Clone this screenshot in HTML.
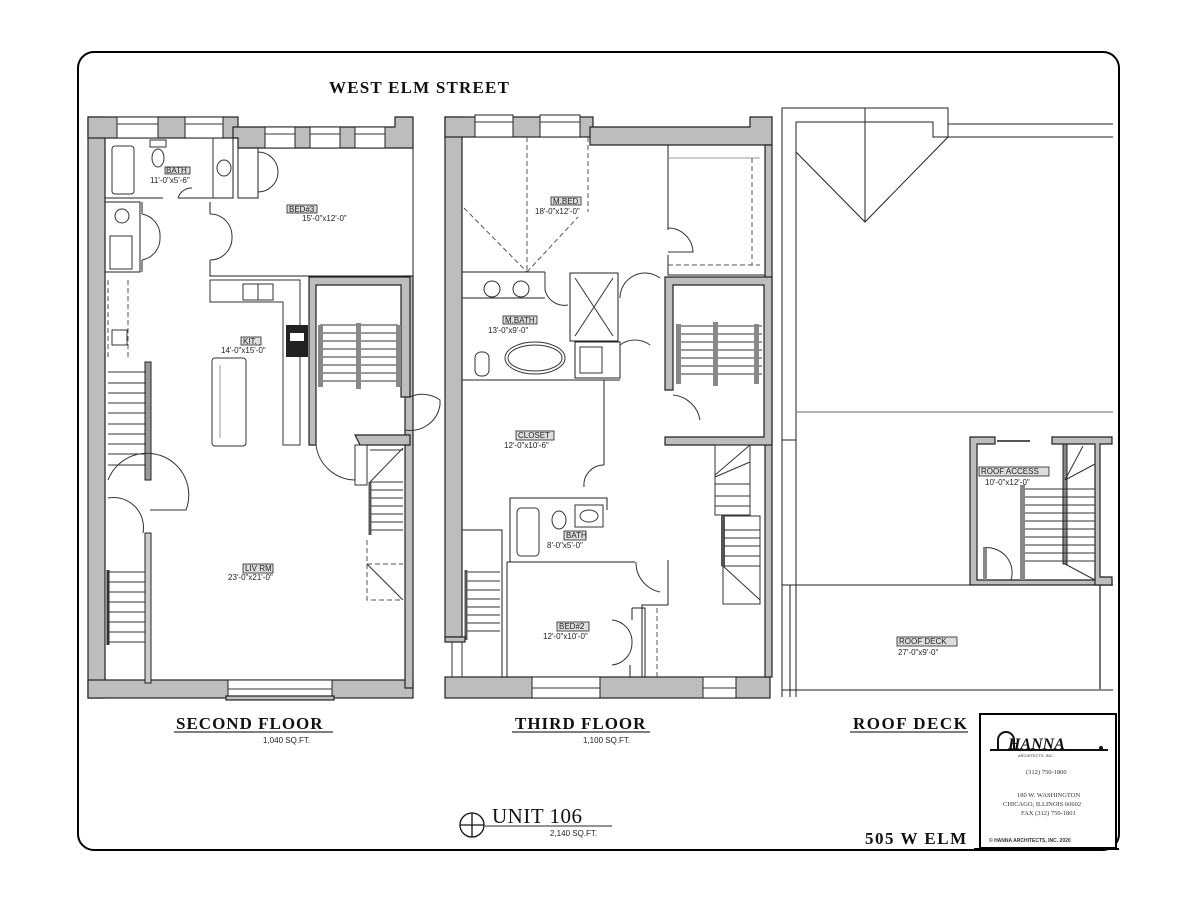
<!DOCTYPE html>
<html><head><meta charset="utf-8"><style>
html,body{margin:0;padding:0;background:#fff;}
svg{display:block}
.w{fill:#bdbdbd;stroke:#222;stroke-width:1.2}
.l{fill:none;stroke:#222;stroke-width:1}
.t{fill:none;stroke:#333;stroke-width:1}
.g{fill:none;stroke:#999;stroke-width:1}
.d{fill:none;stroke:#555;stroke-width:1;stroke-dasharray:5 3}
.lab{font-family:"Liberation Sans",sans-serif;font-size:8px;fill:#222}
.lb{fill:#ddd;stroke:#222;stroke-width:.8}
.ttl{font-family:"Liberation Serif",serif;font-weight:bold;fill:#111}
</style></head><body>
<svg width="1200" height="900" viewBox="0 0 1200 900" xmlns="http://www.w3.org/2000/svg">
<rect x="0" y="0" width="1200" height="900" fill="#fff"/>
<rect x="78" y="52" width="1041" height="798" rx="16" ry="16" fill="#fff" stroke="#000" stroke-width="2"/>

<text x="329" y="93" class="ttl" font-size="17" letter-spacing="1.2">WEST ELM STREET</text>

<!-- ============ SECOND FLOOR ============ -->
<rect x="88" y="117" width="17" height="581" class="w"/>
<rect x="88" y="680" width="325" height="18" class="w"/>
<rect x="228" y="680" width="104" height="18" fill="#fff" stroke="#222"/>
<line x1="228" y1="689" x2="332" y2="689" class="t"/>
<rect x="226" y="696" width="108" height="4" class="w"/>
<rect x="405" y="276" width="8" height="412" class="w"/>
<rect x="88" y="117" width="150" height="21" class="w"/>
<rect x="117" y="117" width="41" height="21" fill="#fff" stroke="#222"/>
<rect x="185" y="117" width="38" height="21" fill="#fff" stroke="#222"/>
<line x1="117" y1="124" x2="158" y2="124" class="t"/><line x1="185" y1="124" x2="223" y2="124" class="t"/>
<path d="M233 127 H395 V117 H413 V148 H238 V138 H233 Z" class="w"/>
<rect x="265" y="127" width="30" height="21" fill="#fff" stroke="#222"/>
<rect x="310" y="127" width="30" height="21" fill="#fff" stroke="#222"/>
<rect x="355" y="127" width="30" height="21" fill="#fff" stroke="#222"/>
<line x1="265" y1="134" x2="295" y2="134" class="t"/><line x1="310" y1="134" x2="340" y2="134" class="t"/><line x1="355" y1="134" x2="385" y2="134" class="t"/>
<line x1="413" y1="148" x2="413" y2="278" class="l" stroke-width="2"/>
<path d="M105 198 H163 M178 198 H233 V138" class="l" stroke-width="1.5"/>
<rect x="112" y="146" width="22" height="48" rx="3" class="t"/>
<ellipse cx="158" cy="158" rx="6" ry="9" class="t"/><rect x="150" y="140" width="16" height="7" class="t"/>
<line x1="213" y1="138" x2="213" y2="198" class="t"/>
<ellipse cx="224" cy="168" rx="7" ry="8" class="t"/>
<path d="M178 198 A14 14 0 0 1 192 188" class="t"/>
<rect x="165" y="167" width="25" height="7" class="lb"/><text x="166" y="173" class="lab" font-size="7">BATH</text>
<text x="150" y="183" class="lab" font-size="7">11'-0"x5'-6"</text>
<path d="M238 148 V198 H258 V148" class="l"/>
<path d="M258 152 A20 20 0 0 1 278 172 M258 192 A20 20 0 0 0 278 172" class="t"/>
<path d="M105 202 H140 V272 H105" class="l"/>
<path d="M142 202 V214 M142 260 V272" class="l" stroke-width="2"/>
<circle cx="122" cy="216" r="7" class="t"/><rect x="110" y="236" width="22" height="33" class="t"/>
<path d="M142 214 A22 22 0 0 1 160 237 M142 260 A22 22 0 0 0 160 237" class="t"/>
<path d="M210 202 V214 M210 260 V276 H413" class="l" stroke-width="2"/>
<path d="M210 214 A22 22 0 0 1 232 237 M210 260 A22 22 0 0 0 232 237" class="t"/>
<rect x="287" y="205" width="30" height="8" class="lb"/><text x="289" y="212" class="lab" font-size="7.5">BED#3</text>
<text x="302" y="221" class="lab" font-size="7.5">15'-0"x12'-0"</text>
<path d="M210 280 H300 V445 H283 V302 H210 Z" class="t"/>
<rect x="243" y="284" width="30" height="16" class="t"/><line x1="258" y1="284" x2="258" y2="300" class="t"/>
<rect x="286" y="325" width="22" height="32" fill="#222"/><rect x="290" y="333" width="14" height="8" fill="#fff"/>
<line x1="108" y1="280" x2="108" y2="360" class="d"/><line x1="128" y1="280" x2="128" y2="360" class="d"/>
<rect x="112" y="330" width="15" height="15" class="t"/>
<rect x="212" y="358" width="34" height="88" rx="3" class="t"/><line x1="220" y1="365" x2="220" y2="438" class="g" stroke-width="3"/>
<rect x="241" y="337" width="20" height="8" class="lb"/><text x="243" y="344" class="lab" font-size="7">KIT.</text>
<text x="221" y="353" class="lab" font-size="7.5">14'-0"x15'-0"</text>
<path d="M309 277 H410 V397 H401 V285 H316 V445 H309 Z" class="w"/>
<g class="t">
<line x1="320" y1="325" x2="398" y2="325"/><line x1="320" y1="333" x2="398" y2="333"/><line x1="320" y1="341" x2="398" y2="341"/><line x1="320" y1="349" x2="398" y2="349"/><line x1="320" y1="357" x2="398" y2="357"/><line x1="320" y1="365" x2="398" y2="365"/><line x1="320" y1="373" x2="398" y2="373"/><line x1="320" y1="381" x2="398" y2="381"/>
</g>
<rect x="318" y="325" width="5" height="62" fill="#888"/><rect x="356" y="323" width="5" height="66" fill="#888"/><rect x="396" y="325" width="5" height="62" fill="#888"/>
<path d="M410 397 A30 30 0 0 1 440 400 L440 405 A30 30 0 0 1 405 430" class="t"/>
<path d="M355 435 H410 V445 H360 Z" class="w"/>
<path d="M316 445 A40 40 0 0 0 355 480" class="t"/>
<rect x="355" y="445" width="12" height="40" class="t"/>
<g class="t"><line x1="370" y1="482" x2="403" y2="482"/><line x1="370" y1="490" x2="403" y2="490"/><line x1="370" y1="498" x2="403" y2="498"/><line x1="370" y1="506" x2="403" y2="506"/><line x1="370" y1="514" x2="403" y2="514"/><line x1="370" y1="522" x2="403" y2="522"/><line x1="370" y1="530" x2="403" y2="530"/></g>
<line x1="370" y1="482" x2="370" y2="535" stroke="#555" stroke-width="3"/>
<line x1="370" y1="450" x2="403" y2="450" class="t"/><line x1="370" y1="482" x2="403" y2="448" class="t"/>
<path d="M367 540 V600 H403 M367 564 H403" class="d"/><line x1="367" y1="564" x2="403" y2="600" class="t"/>
<rect x="145" y="362" width="6" height="118" fill="#999" stroke="#222"/>
<g class="t">
<line x1="108" y1="372" x2="146" y2="372"/><line x1="108" y1="383" x2="146" y2="383"/><line x1="108" y1="393" x2="146" y2="393"/><line x1="108" y1="403" x2="146" y2="403"/><line x1="108" y1="413" x2="146" y2="413"/><line x1="108" y1="424" x2="146" y2="424"/><line x1="108" y1="434" x2="146" y2="434"/><line x1="108" y1="444" x2="146" y2="444"/><line x1="108" y1="454" x2="146" y2="454"/><line x1="108" y1="465" x2="146" y2="465"/>
</g>
<path d="M108 480 A36 36 0 0 1 186 510 H150" class="t"/>
<path d="M108 498 A30 30 0 0 1 143 533" class="t"/>
<rect x="145" y="533" width="6" height="150" fill="#ccc" stroke="#222"/>
<g class="t">
<line x1="108" y1="572" x2="145" y2="572"/><line x1="108" y1="582" x2="145" y2="582"/><line x1="108" y1="592" x2="145" y2="592"/><line x1="108" y1="602" x2="145" y2="602"/><line x1="108" y1="612" x2="145" y2="612"/><line x1="108" y1="622" x2="145" y2="622"/><line x1="108" y1="632" x2="145" y2="632"/><line x1="108" y1="642" x2="145" y2="642"/>
</g>
<line x1="108" y1="570" x2="108" y2="645" stroke="#333" stroke-width="3"/>
<rect x="243" y="564" width="30" height="9" class="lb"/><text x="245" y="571" class="lab" font-size="7.5">LIV RM</text>
<text x="228" y="580" class="lab" font-size="7.5">23'-0"x21'-0"</text>

<!-- ============ THIRD FLOOR ============ -->
<rect x="445" y="117" width="17" height="520" class="w"/>
<rect x="445" y="677" width="325" height="21" class="w"/>
<rect x="532" y="677" width="68" height="21" fill="#fff" stroke="#222"/><line x1="532" y1="688" x2="600" y2="688" class="t"/>
<rect x="703" y="677" width="33" height="21" fill="#fff" stroke="#222"/><line x1="703" y1="688" x2="736" y2="688" class="t"/>
<rect x="445" y="117" width="148" height="20" class="w"/>
<rect x="475" y="115" width="38" height="22" fill="#fff" stroke="#222"/><rect x="540" y="115" width="40" height="22" fill="#fff" stroke="#222"/>
<line x1="475" y1="122" x2="513" y2="122" class="t"/><line x1="540" y1="122" x2="580" y2="122" class="t"/>
<path d="M590 127 H750 V117 H772 V145 H590 Z" class="w"/>
<rect x="765" y="145" width="7" height="532" class="w"/>
<path d="M668 145 V230 M668 255 V275 H765" class="l" stroke-width="2"/>
<line x1="668" y1="158" x2="760" y2="158" class="g"/><line x1="668" y1="265" x2="760" y2="265" class="d"/><line x1="752" y1="158" x2="752" y2="265" class="d"/>
<path d="M668 228 A25 25 0 0 1 693 252 H668" class="t"/>
<line x1="527" y1="137" x2="527" y2="272" class="d"/><line x1="588" y1="137" x2="588" y2="212" class="d"/>
<line x1="464" y1="208" x2="527" y2="272" class="d"/><line x1="527" y1="272" x2="578" y2="217" class="d"/>
<rect x="551" y="197" width="30" height="8" class="lb"/><text x="553" y="204" class="lab" font-size="7.5">M.BED</text>
<text x="535" y="214" class="lab" font-size="7.5">18'-0"x12'-0"</text>
<path d="M462 272 H545 M462 298 H545" class="l"/>
<circle cx="492" cy="289" r="8" class="t"/><circle cx="521" cy="289" r="8" class="t"/>
<path d="M545 272 V290 A20 20 0 0 0 568 305" class="t"/>
<path d="M462 380 H620" class="l" stroke-width="1.5"/>
<ellipse cx="535" cy="358" rx="30" ry="16" class="t"/><ellipse cx="535" cy="358" rx="27" ry="13" class="t"/>
<rect x="475" y="352" width="14" height="24" rx="6" class="t"/>
<rect x="570" y="273" width="48" height="68" class="l"/><line x1="575" y1="278" x2="613" y2="336" class="t"/><line x1="613" y1="278" x2="575" y2="336" class="t"/>
<rect x="575" y="342" width="45" height="36" class="l"/><rect x="580" y="347" width="22" height="26" class="t"/>
<path d="M620 345 A25 25 0 0 1 650 345" class="t"/>
<path d="M620 298 A25 25 0 0 1 660 278" class="t"/>
<rect x="503" y="316" width="34" height="8" class="lb"/><text x="505" y="323" class="lab" font-size="7.5">M.BATH</text>
<text x="488" y="333" class="lab" font-size="7.5">13'-0"x9'-0"</text>
<line x1="604" y1="380" x2="604" y2="465" class="l"/>
<path d="M604 465 A20 20 0 0 0 584 487" class="t"/>
<path d="M665 277 H772 V445 H665 V437 H764 V285 H673 V390 H665 Z" class="w"/>
<g class="t"><line x1="676" y1="326" x2="762" y2="326"/><line x1="676" y1="334" x2="762" y2="334"/><line x1="676" y1="342" x2="762" y2="342"/><line x1="676" y1="350" x2="762" y2="350"/><line x1="676" y1="358" x2="762" y2="358"/><line x1="676" y1="366" x2="762" y2="366"/><line x1="676" y1="374" x2="762" y2="374"/></g>
<rect x="676" y="324" width="5" height="60" fill="#888"/><rect x="713" y="322" width="5" height="64" fill="#888"/><rect x="754" y="324" width="5" height="60" fill="#888"/>
<path d="M673 395 A30 30 0 0 1 700 420" class="t"/>
<rect x="715" y="445" width="35" height="70" class="t"/>
<line x1="715" y1="475" x2="750" y2="445" class="t"/><line x1="715" y1="477" x2="750" y2="462" class="t"/>
<g class="t"><line x1="715" y1="484" x2="750" y2="484"/><line x1="715" y1="496" x2="750" y2="496"/><line x1="715" y1="506" x2="750" y2="506"/></g>
<rect x="722" y="516" width="38" height="50" class="t"/><line x1="723" y1="516" x2="723" y2="566" stroke="#555" stroke-width="4"/>
<g class="t"><line x1="723" y1="530" x2="760" y2="530"/><line x1="723" y1="538" x2="760" y2="538"/><line x1="723" y1="546" x2="760" y2="546"/><line x1="723" y1="556" x2="760" y2="556"/></g>
<rect x="723" y="566" width="37" height="38" class="t"/><line x1="723" y1="566" x2="760" y2="600" class="t"/>
<rect x="516" y="431" width="38" height="9" class="lb"/><text x="518" y="438" class="lab" font-size="7.5">CLOSET</text>
<text x="504" y="448" class="lab" font-size="7.5">12'-0"x10'-6"</text>
<path d="M510 562 V498 H607 V510" class="l" stroke-width="1.5"/>
<path d="M507 562 H635" class="l" stroke-width="1.5"/>
<rect x="517" y="508" width="22" height="48" rx="4" class="t"/>
<ellipse cx="559" cy="520" rx="7" ry="9" class="t"/>
<rect x="575" y="505" width="28" height="22" class="t"/><ellipse cx="589" cy="516" rx="9" ry="6" class="t"/>
<rect x="564" y="531" width="22" height="9" class="lb"/><text x="566" y="538" class="lab" font-size="7">BATH</text>
<text x="547" y="548" class="lab" font-size="7.5">8'-0"x5'-0"</text>
<path d="M507 562 V677" class="l" stroke-width="1.5"/>
<path d="M668 560 V605 H642 V677" class="l" stroke-width="1.5"/>
<path d="M636 562 A30 30 0 0 0 660 592" class="t"/>
<path d="M632 608 H645 V677 M632 608 V620 M630 665 V677" class="l"/>
<path d="M612 620 A22 22 0 0 1 632 643 M612 665 A22 22 0 0 0 632 643" class="t"/>
<line x1="657" y1="608" x2="657" y2="677" class="d"/>
<rect x="557" y="622" width="32" height="9" class="lb"/><text x="559" y="629" class="lab" font-size="7.5">BED#2</text>
<text x="543" y="639" class="lab" font-size="7.5">12'-0"x10'-0"</text>
<path d="M462 530 H502 V677" class="l"/>
<g class="t"><line x1="466" y1="572" x2="500" y2="572"/><line x1="466" y1="581" x2="500" y2="581"/><line x1="466" y1="590" x2="500" y2="590"/><line x1="466" y1="599" x2="500" y2="599"/><line x1="466" y1="607" x2="500" y2="607"/><line x1="466" y1="615" x2="500" y2="615"/><line x1="466" y1="623" x2="500" y2="623"/><line x1="466" y1="631" x2="500" y2="631"/></g>
<line x1="466" y1="570" x2="466" y2="640" stroke="#555" stroke-width="3"/>
<rect x="445" y="637" width="20" height="5" class="w"/>
<line x1="452" y1="642" x2="452" y2="677" class="t"/><line x1="462" y1="642" x2="462" y2="677" class="t"/>

<!-- ============ ROOF ============ -->
<path d="M782 697 V108 H948 V124 H1113" class="l" stroke-width="1.2"/>
<path d="M796 697 V122 H933 V137 H1113" class="l" stroke-width="1.2"/>
<path d="M948 108 V137" class="l"/>
<line x1="865" y1="108" x2="865" y2="222" class="l"/>
<polyline points="796,152 865,222 948,137" class="l"/>
<line x1="796" y1="412" x2="1113" y2="412" stroke="#888" stroke-width="1.3"/>
<line x1="782" y1="440" x2="796" y2="440" class="l"/>
<line x1="782" y1="585" x2="1113" y2="585" class="l" stroke-width="1.5"/>
<line x1="782" y1="690" x2="1113" y2="690" class="l" stroke-width="1.5"/>
<line x1="790" y1="585" x2="790" y2="697" class="l"/>
<line x1="1100" y1="585" x2="1100" y2="690" stroke="#777" stroke-width="2"/>
<path d="M970 437 H995 V444 H977 V580 H1112 V585 H970 Z" class="w"/>
<path d="M1052 437 H1112 V444 H1100 V577 H1112 V585 H1095 V444 H1052 Z" class="w"/>
<line x1="997" y1="441" x2="1030" y2="441" stroke="#555" stroke-width="2"/>
<rect x="1063" y="444" width="4" height="120" fill="#888" stroke="#222"/>
<rect x="1020" y="485" width="5" height="95" fill="#888"/>
<g class="t"><line x1="1025" y1="489" x2="1095" y2="489"/><line x1="1025" y1="497" x2="1095" y2="497"/><line x1="1025" y1="505" x2="1095" y2="505"/><line x1="1025" y1="513" x2="1095" y2="513"/><line x1="1025" y1="521" x2="1095" y2="521"/><line x1="1025" y1="529" x2="1095" y2="529"/><line x1="1025" y1="537" x2="1095" y2="537"/><line x1="1025" y1="545" x2="1095" y2="545"/><line x1="1025" y1="553" x2="1095" y2="553"/><line x1="1025" y1="561" x2="1095" y2="561"/></g>
<line x1="1065" y1="480" x2="1083" y2="446" class="t"/><line x1="1065" y1="480" x2="1095" y2="464" class="t"/>
<line x1="1065" y1="564" x2="1095" y2="580" class="t"/>
<path d="M983 548 A25 25 0 0 1 1011 580" class="t"/>
<rect x="983" y="548" width="4" height="32" fill="#888"/>
<rect x="979" y="467" width="70" height="9" class="lb"/><text x="981" y="474" class="lab" font-size="7.5">ROOF ACCESS</text>
<text x="985" y="485" class="lab" font-size="7.5">10'-0"x12'-0"</text>
<rect x="897" y="637" width="60" height="9" class="lb"/><text x="899" y="644" class="lab" font-size="7.5">ROOF  DECK</text>
<text x="898" y="655" class="lab" font-size="7.5">27'-0"x9'-0"</text>

<!-- ============ TITLES ============ -->
<text x="176" y="729" class="ttl" font-size="17" letter-spacing="1">SECOND FLOOR</text>
<line x1="174" y1="732" x2="333" y2="732" stroke="#555" stroke-width="1.5"/>
<text x="263" y="743" class="lab" font-size="8.5">1,040  SQ.FT.</text>
<text x="515" y="729" class="ttl" font-size="17" letter-spacing="1">THIRD FLOOR</text>
<line x1="512" y1="732" x2="650" y2="732" stroke="#555" stroke-width="1.5"/>
<text x="583" y="743" class="lab" font-size="8.5">1,100  SQ.FT.</text>
<text x="853" y="729" class="ttl" font-size="17" letter-spacing="1.5">ROOF DECK</text>
<line x1="850" y1="732" x2="968" y2="732" stroke="#555" stroke-width="1.5"/>
<circle cx="472" cy="825" r="12" fill="none" stroke="#111" stroke-width="1.3"/>
<line x1="460" y1="825" x2="484" y2="825" stroke="#111" stroke-width="1.3"/><line x1="472" y1="813" x2="472" y2="837" stroke="#111" stroke-width="1.3"/>
<text x="492" y="823" font-family="Liberation Serif,serif" font-size="21" fill="#111" letter-spacing="0.5">UNIT  106</text>
<line x1="484" y1="826" x2="612" y2="826" stroke="#555" stroke-width="1.3"/>
<text x="550" y="836" class="lab" font-size="8.5">2,140  SQ.FT.</text>
<text x="865" y="844" class="ttl" font-size="17" letter-spacing="1.5">505  W  ELM</text>
<rect x="980" y="714" width="136" height="134" fill="#fff" stroke="#000" stroke-width="2"/>
<rect x="974" y="848" width="145" height="2" fill="#000"/>
<text x="1008" y="749" font-family="Liberation Serif,serif" font-style="italic" font-weight="bold" font-size="16" fill="#111">HANNA</text>
<path d="M990 750 H1108 M998 750 V740 A8 8 0 0 1 1014 740 V750" fill="none" stroke="#111" stroke-width="2"/>
<circle cx="1101" cy="748" r="2" fill="#111"/>
<text x="1018" y="757" font-family="Liberation Sans,sans-serif" font-size="4" fill="#333">ARCHITECTS, INC.</text>
<text x="1026" y="774" font-family="Liberation Serif,serif" font-size="6.5" fill="#333">(312) 750-1800</text>
<text x="1017" y="797" font-family="Liberation Serif,serif" font-size="6.5" fill="#333">180 W. WASHINGTON</text>
<text x="1003" y="806" font-family="Liberation Serif,serif" font-size="6.5" fill="#333">CHICAGO, ILLINOIS 60602</text>
<text x="1021" y="815" font-family="Liberation Serif,serif" font-size="6.5" fill="#333">FAX (312) 750-1801</text>
<text x="989" y="842" font-family="Liberation Sans,sans-serif" font-weight="bold" font-size="5" fill="#333">© HANNA ARCHITECTS, INC. 2020</text>
</svg>
</body></html>
